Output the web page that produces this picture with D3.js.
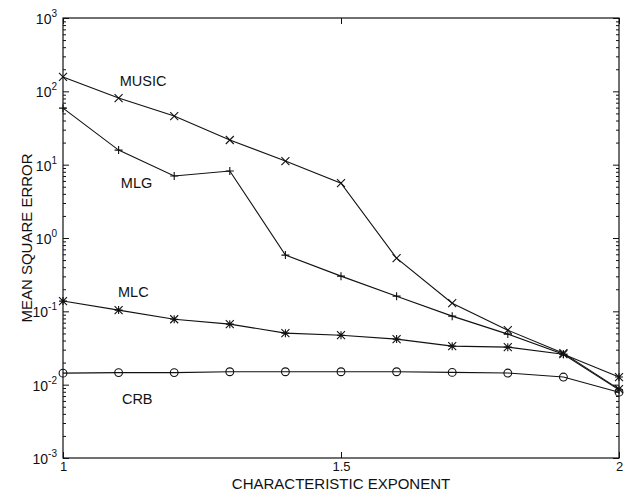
<!DOCTYPE html>
<html>
<head>
<meta charset="utf-8">
<script src="https://cdn.jsdelivr.net/npm/d3@7"></script>
<style>
  html, body { margin: 0; padding: 0; background: #fff; }
  svg { display: block; }
  text { font-family: "Liberation Sans", Arial, Helvetica, sans-serif; fill: #111; }
</style>
</head>
<body>
<svg id="chart" width="631" height="497"></svg>
<script>
// Characteristic exponent values on the x axis
const exponents = [1.0, 1.1, 1.2, 1.3, 1.4, 1.5, 1.6, 1.7, 1.8, 1.9, 2.0];

// Mean square error of each estimator
const music = [157, 81, 46, 21.7, 11.2, 5.6, 0.53, 0.129, 0.0554, 0.0269, 0.0087];
const mlg   = [59, 15.8, 7.0, 8.2, 0.585, 0.302, 0.161, 0.086, 0.0489, 0.026, 0.0085];
const mlc   = [0.138, 0.104, 0.078, 0.0669, 0.0504, 0.0473, 0.0418, 0.0335, 0.0325, 0.026, 0.0127];
const crb   = [0.01435, 0.0146, 0.0146, 0.0150, 0.0150, 0.0150, 0.0150, 0.0147, 0.0144, 0.0127, 0.0079];

const seriesNames = ["MUSIC", "MLG", "MLC", "CRB"];
const xTicks = [1, 1.5, 2];
const yDecades = [-3, -2, -1, 0, 1, 2, 3];

const svg = d3.select("#chart");
const plotL = 63, plotR = 619, plotT = 18, plotB = 458;

const x = d3.scaleLinear().domain([1, 2]).range([plotL, plotR]);
const y = d3.scaleLog().domain([1e-3, 1e3]).range([plotB, plotT]);

const ink = "#111";

// Frame
svg.append("rect")
  .attr("x", plotL).attr("y", plotT)
  .attr("width", plotR - plotL).attr("height", plotB - plotT)
  .attr("fill", "none").attr("stroke", ink).attr("stroke-width", 1.2);

// X axes (ticks pointing inward)
const xb = svg.append("g").attr("transform", `translate(0,${plotB})`)
  .call(d3.axisBottom(x).tickValues(xTicks).tickSize(-6).tickPadding(4)
    .tickFormat(d => d === 1 || d === 2 ? d3.format("d")(d) : d3.format(".1f")(d)));
xb.select(".domain").remove();
xb.selectAll("text").attr("font-size", 13).attr("fill", ink)
  .style("font-family", "'Liberation Sans', Arial, sans-serif");
xb.selectAll("line").attr("stroke", ink);

const xt = svg.append("g").attr("transform", `translate(0,${plotT})`)
  .call(d3.axisTop(x).tickValues(xTicks).tickSize(-6).tickFormat(""));
xt.select(".domain").remove();
xt.selectAll("line").attr("stroke", ink);

// Y axes with log minor ticks on both sides
const yTickVals = y.ticks();
const isMajor = v => Math.abs(Math.log10(v) - Math.round(Math.log10(v))) < 1e-9;

const yl = svg.append("g").attr("transform", `translate(${plotL},0)`)
  .call(d3.axisLeft(y).tickValues(yTickVals).tickSize(0).tickFormat(""));
yl.select(".domain").remove();
yl.selectAll(".tick line").attr("x2", d => isMajor(d) ? 6 : 3).attr("stroke", ink);

const yr = svg.append("g").attr("transform", `translate(${plotR},0)`)
  .call(d3.axisRight(y).tickValues(yTickVals).tickSize(0).tickFormat(""));
yr.select(".domain").remove();
yr.selectAll(".tick line").attr("x2", d => isMajor(d) ? -6 : -3).attr("stroke", ink);

// Decade labels: 10 with superscript exponent
const ylab = svg.append("g");
yDecades.forEach(e => {
  const t = ylab.append("text")
    .attr("x", plotL - 6).attr("y", y(Math.pow(10, e)) + 6)
    .attr("text-anchor", "end").attr("font-size", 14);
  t.append("tspan").text("10");
  t.append("tspan").attr("font-size", 10).attr("dy", -7).text(String(e));
});

// Axis titles
svg.append("text")
  .attr("x", (plotL + plotR) / 2).attr("y", 489)
  .attr("text-anchor", "middle").attr("font-size", 15)
  .text("CHARACTERISTIC EXPONENT");

svg.append("text")
  .attr("transform", `translate(32,${(plotT + plotB) / 2}) rotate(-90)`)
  .attr("text-anchor", "middle").attr("font-size", 15)
  .text("MEAN SQUARE ERROR");

// Curves
const line = d3.line().x((d, i) => x(exponents[i])).y(d => y(d));
const allSeries = [music, mlg, mlc, crb];
allSeries.forEach(s => {
  svg.append("path").datum(s).attr("d", line)
    .attr("fill", "none").attr("stroke", ink).attr("stroke-width", 1.1);
});

// Markers
const m = 4;
function drawMarker(g, kind, px, py) {
  if (kind === "o") {
    g.append("circle").attr("cx", px).attr("cy", py).attr("r", 3.9)
      .attr("fill", "none").attr("stroke", ink).attr("stroke-width", 1.1);
    return;
  }
  const p = d3.path();
  if (kind === "x" || kind === "*") {
    p.moveTo(px - m, py - m); p.lineTo(px + m, py + m);
    p.moveTo(px - m, py + m); p.lineTo(px + m, py - m);
  }
  if (kind === "+" || kind === "*") {
    p.moveTo(px - m, py); p.lineTo(px + m, py);
    p.moveTo(px, py - m); p.lineTo(px, py + m);
  }
  g.append("path").attr("d", p.toString()).attr("stroke", ink).attr("stroke-width", 1.1).attr("fill", "none");
}
const kinds = ["x", "+", "*", "o"];
allSeries.forEach((s, k) => {
  const g = svg.append("g");
  s.forEach((v, i) => drawMarker(g, kinds[k], x(exponents[i]), y(v)));
});

// Series labels
const labelPos = [
  { name: seriesNames[0], x: 1.102, v: 118 },
  { name: seriesNames[1], x: 1.104, v: 4.8 },
  { name: seriesNames[2], x: 1.099, v: 0.156 },
  { name: seriesNames[3], x: 1.106, v: 0.00542 }
];
labelPos.forEach(l => {
  svg.append("text").attr("x", x(l.x)).attr("y", y(l.v))
    .attr("font-size", 14.5).text(l.name);
});
</script>
</body>
</html>
